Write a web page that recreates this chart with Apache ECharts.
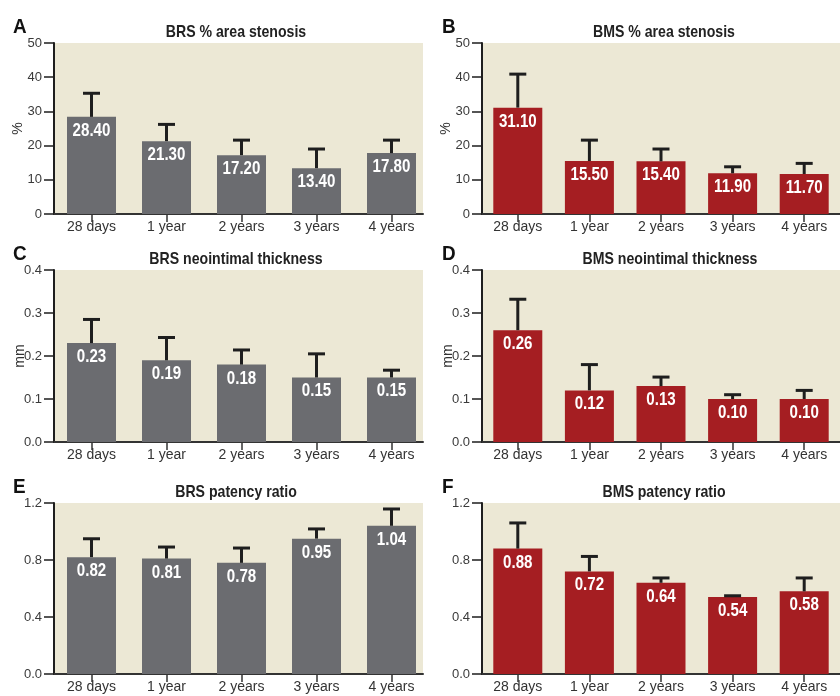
<!DOCTYPE html>
<html>
<head>
<meta charset="utf-8">
<script src="https://cdn.jsdelivr.net/npm/echarts@6/dist/echarts.min.js"></script>
<style>
  html, body { margin: 0; padding: 0; background: #ffffff; }
  #chart { width: 840px; height: 696px; }
</style>
</head>
<body>
<div id="chart"></div>
<script>
// Follow-up time points
const categories = ['28 days', '1 year', '2 years', '3 years', '4 years'];

// % area stenosis (mean and upper SD)
const brsStenosis = [28.40, 21.30, 17.20, 13.40, 17.80];
const brsStenosisSD = [6.9, 4.9, 4.4, 5.6, 3.8];
const bmsStenosis = [31.10, 15.50, 15.40, 11.90, 11.70];
const bmsStenosisSD = [9.8, 6.1, 3.6, 1.9, 3.1];

// Neointimal thickness, mm
const brsThickness = [0.23, 0.19, 0.18, 0.15, 0.15];
const brsThicknessSD = [0.055, 0.053, 0.034, 0.055, 0.017];
const bmsThickness = [0.26, 0.12, 0.13, 0.10, 0.10];
const bmsThicknessSD = [0.072, 0.060, 0.021, 0.010, 0.020];

// Patency ratio
const brsPatency = [0.82, 0.81, 0.78, 0.95, 1.04];
const brsPatencySD = [0.129, 0.081, 0.104, 0.068, 0.118];
const bmsPatency = [0.88, 0.72, 0.64, 0.54, 0.58];
const bmsPatencySD = [0.18, 0.105, 0.034, 0.009, 0.094];

// Axis ranges
const stenosisTicks = { max: 50, interval: 10, digits: 0 };
const thicknessTicks = { max: 0.4, interval: 0.1, digits: 1 };
const patencyTicks = { max: 1.2, interval: 0.4, digits: 1 };

const GRAY = '#6b6c70';
const RED = '#a51e22';
const PANEL_BG = '#ece8d5';
const INK = '#1e1e1e';
const SANS = '"Liberation Sans", Arial, sans-serif';
// Condensed look: Liberation Sans squeezed horizontally
const SQUEEZE_TITLE = 0.83;
const SQUEEZE_VALUE = 0.84;
const SQUEEZE_LETTER = 0.9;

const panels = [
  { letter: 'A', title: 'BRS % area stenosis', vals: brsStenosis, sd: brsStenosisSD, color: GRAY, ticks: stenosisTicks, unit: '%', col: 0, row: 0 },
  { letter: 'B', title: 'BMS % area stenosis', vals: bmsStenosis, sd: bmsStenosisSD, color: RED, ticks: stenosisTicks, unit: '%', col: 1, row: 0 },
  { letter: 'C', title: 'BRS neointimal thickness', vals: brsThickness, sd: brsThicknessSD, color: GRAY, ticks: thicknessTicks, unit: 'mm', col: 0, row: 1 },
  { letter: 'D', title: 'BMS neointimal thickness', vals: bmsThickness, sd: bmsThicknessSD, color: RED, ticks: thicknessTicks, unit: 'mm', col: 1, row: 1, titleShift: 6 },
  { letter: 'E', title: 'BRS patency ratio', vals: brsPatency, sd: brsPatencySD, color: GRAY, ticks: patencyTicks, unit: '', col: 0, row: 2 },
  { letter: 'F', title: 'BMS patency ratio', vals: bmsPatency, sd: bmsPatencySD, color: RED, ticks: patencyTicks, unit: '', col: 1, row: 2 }
];

// Layout of the 3 x 2 panel grid
const colLeft = [54, 482];
const colWidth = [369, 375];
const rowTop = [43, 270, 503];
const rowHeight = [171, 172, 171];
const BAND = 75; // pixels per time point

const grids = [], xAxes = [], yAxes = [], series = [], graphics = [];

panels.forEach((p, i) => {
  const left = colLeft[p.col], width = colWidth[p.col];
  const top = rowTop[p.row], height = rowHeight[p.row];
  grids.push({ left, top, width, height, show: true, backgroundColor: PANEL_BG, borderWidth: 0, containLabel: false });

  xAxes.push({
    type: 'value', gridIndex: i,
    min: -0.5, max: -0.5 + width / BAND,
    splitLine: { show: false },
    axisLine: { show: true, onZero: false, lineStyle: { color: '#333', width: 2 } },
    axisTick: { show: true, customValues: [0, 1, 2, 3, 4], length: 8, lineStyle: { color: '#333', width: 1.5 } },
    axisLabel: {
      customValues: [0, 1, 2, 3, 4], margin: 6,
      formatter: v => categories[Math.round(v)],
      color: '#333', fontFamily: SANS, fontSize: 14
    }
  });

  yAxes.push({
    type: 'value', gridIndex: i,
    min: 0, max: p.ticks.max, interval: p.ticks.interval,
    splitLine: { show: false },
    axisLine: { show: true, onZero: false, lineStyle: { color: INK, width: 2 } },
    axisTick: { show: true, length: 10, lineStyle: { color: INK, width: 1.5 } },
    axisLabel: {
      margin: 12, color: '#3a3a3a', fontFamily: SANS, fontSize: 13,
      formatter: v => v.toFixed(p.ticks.digits)
    },
    name: p.unit, nameLocation: 'middle', nameRotate: 90,
    nameGap: p.unit === 'mm' ? 27 : 29,
    nameMoveOverlap: false,
    nameTextStyle: { color: '#333', fontFamily: SANS, fontSize: 14 }
  });

  series.push({
    type: 'bar', xAxisIndex: i, yAxisIndex: i,
    barWidth: 49,
    itemStyle: { color: p.color },
    data: p.vals.map((v, k) => [k, v]),
    z: 2
  });

  // Upper SD whisker plus the value printed inside the top of each bar
  series.push({
    type: 'custom', xAxisIndex: i, yAxisIndex: i,
    data: p.vals.map((v, k) => [k, v, p.sd[k]]),
    encode: { x: 0, y: 1 },
    renderItem: (params, api) => {
      const x = api.value(0), v = api.value(1), e = api.value(2);
      const base = api.coord([x, v]);
      const tip = api.coord([x, v + e]);
      const half = 8.5;
      return {
        type: 'group',
        children: [
          { type: 'line', shape: { x1: base[0], y1: base[1], x2: tip[0], y2: tip[1] }, style: { stroke: INK, lineWidth: 3 } },
          { type: 'line', shape: { x1: tip[0] - half, y1: tip[1], x2: tip[0] + half, y2: tip[1] }, style: { stroke: INK, lineWidth: 3 } },
          {
            type: 'text', x: base[0], y: base[1] + 14, scaleX: SQUEEZE_VALUE,
            style: {
              text: v.toFixed(2), x: 0, y: 0,
              align: 'center', verticalAlign: 'middle',
              textAlign: 'center', textVerticalAlign: 'middle',
              fill: '#ffffff', fontFamily: SANS, fontWeight: 'bold', fontSize: 18
            }
          }
        ]
      };
    },
    z: 3
  });

  // Panel heading and letter
  graphics.push({
    type: 'text', x: left + 182 + (p.titleShift || 0), y: top - 11, scaleX: SQUEEZE_TITLE,
    style: {
      text: p.title, x: 0, y: 0,
      textAlign: 'center', textVerticalAlign: 'middle',
      fill: '#222', font: 'bold 17px "Liberation Sans", Arial, sans-serif'
    }
  });
  graphics.push({
    type: 'text', x: p.col === 0 ? 13 : 442, y: top - 16, scaleX: SQUEEZE_LETTER,
    style: {
      text: p.letter, x: 0, y: 0,
      textAlign: 'left', textVerticalAlign: 'middle',
      fill: '#111', font: 'bold 21px "Liberation Sans", Arial, sans-serif'
    }
  });
});

const chart = echarts.init(document.getElementById('chart'), null, { renderer: 'canvas' });
chart.setOption({
  animation: false,
  backgroundColor: '#ffffff',
  graphic: graphics,
  grid: grids,
  xAxis: xAxes,
  yAxis: yAxes,
  series
});
</script>
</body>
</html>
